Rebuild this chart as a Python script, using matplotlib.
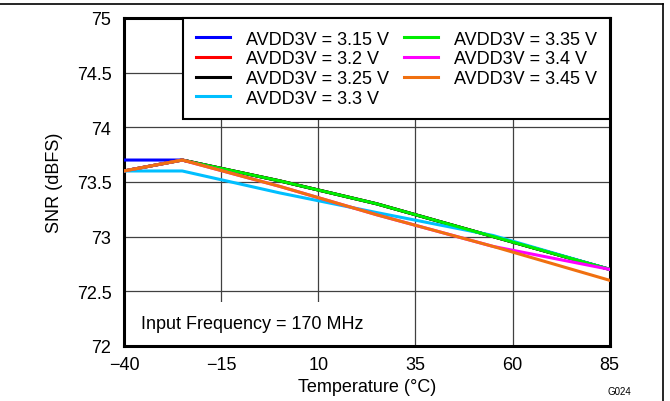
import matplotlib.pyplot as plt
from matplotlib.lines import Line2D
from matplotlib.patches import Rectangle
from matplotlib.ticker import FormatStrFormatter, FuncFormatter

plt.rcParams['font.family'] = ['Liberation Sans', 'DejaVu Sans']

temperature = [-40, -25, 0, 25, 55, 85]

snr_315 = [73.7, 73.7, 73.51, 73.3, 73.0, 72.7]
snr_320 = [73.6, 73.7, 73.51, 73.3, 73.0, 72.7]
snr_325 = [73.6, 73.7, 73.51, 73.3, 73.0, 72.7]
snr_330 = [73.6, 73.6, 73.4, 73.22, 73.01, 72.7]
snr_335 = [73.6, 73.7, 73.51, 73.3, 73.0, 72.7]
snr_340 = [73.6, 73.7, 73.46, 73.2, 72.91, 72.7]
snr_345 = [73.6, 73.7, 73.46, 73.2, 72.91, 72.6]

labels = ['AVDD3V = 3.15 V', 'AVDD3V = 3.2 V', 'AVDD3V = 3.25 V', 'AVDD3V = 3.3 V',
          'AVDD3V = 3.35 V', 'AVDD3V = 3.4 V', 'AVDD3V = 3.45 V']
colors = ['#0000ff', '#ff0000', '#000000', '#00bfff', '#00ee00', '#ff00ff', '#f07010']
series = [snr_315, snr_320, snr_325, snr_330, snr_335, snr_340, snr_345]

x_ticks = [-40, -15, 10, 35, 60, 85]
y_ticks = [72, 72.5, 73, 73.5, 74, 74.5, 75]

fig = plt.figure(figsize=(6.7, 4.02), dpi=100)
ax = fig.add_axes([0.185, 0.137, 0.725, 0.816])

for vals, col, lab in zip(series, colors, labels):
    ax.plot(temperature, vals, color=col, lw=2.2, label=lab, zorder=3)

ax.set_xlim(-40, 85)
ax.set_ylim(72, 75)
ax.set_xticks(x_ticks)
ax.set_yticks(y_ticks)
ax.yaxis.set_major_formatter(FuncFormatter(lambda v, p: '%g' % v))
ax.tick_params(length=0, labelsize=13)
ax.tick_params(axis='y', pad=9)
ax.tick_params(axis='x', pad=7)
ax.set_axisbelow(True)
ax.grid(True, color='#404040', lw=0.9)
for s in ax.spines.values():
    s.set_linewidth(2.2)

ax.set_xlabel('Temperature (°C)', fontsize=13, labelpad=4)
ax.set_ylabel('SNR (dBFS)', fontsize=13, labelpad=10)

# white box behind the annotation hides the grid lines
ax.add_patch(Rectangle((0, 0), 0.55, 0.135, transform=ax.transAxes,
                       facecolor='white', edgecolor='none', zorder=1))
ax.text(0.035, 0.067, 'Input Frequency = 170 MHz', transform=ax.transAxes,
        fontsize=13, va='center', zorder=4)

leg = ax.legend(ncol=2, loc='upper right', bbox_to_anchor=(1, 1), borderaxespad=0,
                fontsize=13, handlelength=1.9, handletextpad=0.9, columnspacing=0.8,
                labelspacing=0.15, borderpad=0.7, fancybox=False, framealpha=1,
                edgecolor='black')
leg.get_frame().set_linewidth(1.5)
leg.set_zorder(5)

fig.text(0.907, 0.025, 'G024', fontsize=7, ha='left', va='center')

fig.add_artist(Line2D([0, 0.99], [0.988, 0.988], color='black', lw=1.2))
fig.add_artist(Line2D([0.99, 0.99], [0, 0.988], color='black', lw=1.2))

fig.savefig('out.png', dpi=100)
